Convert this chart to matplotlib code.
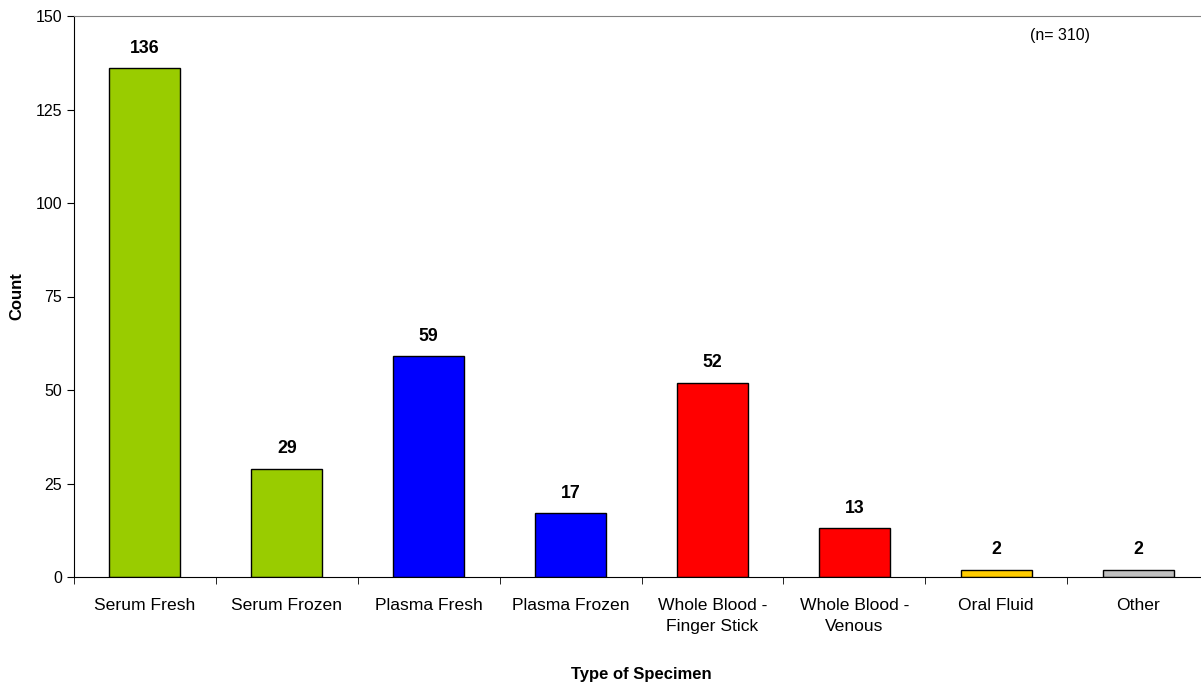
import matplotlib.pyplot as plt
import numpy as np

plt.rcParams['font.family'] = ['Liberation Sans', 'DejaVu Sans']

categories = ['Serum Fresh', 'Serum Frozen', 'Plasma Fresh', 'Plasma Frozen',
              'Whole Blood -\nFinger Stick', 'Whole Blood -\nVenous', 'Oral Fluid', 'Other']
counts = [136, 29, 59, 17, 52, 13, 2, 2]
colors = ['#99CC00', '#99CC00', '#0000FF', '#0000FF', '#FF0000', '#FF0000', '#FFCC00', '#C0C0C0']

fig = plt.figure(figsize=(12.01, 6.88), dpi=100)
ax = fig.add_axes([74 / 1201, 111 / 688, 1135 / 1201, 561 / 688])

x = np.arange(len(categories))
bars = ax.bar(x, counts, width=0.5, color=colors, edgecolor='black', linewidth=1)
for xi, v in zip(x, counts):
    ax.text(xi, v + 3, str(v), ha='center', va='bottom', fontsize=12.8, fontweight='bold')

ax.set_xlim(-0.5, len(categories) - 0.5)
ax.set_ylim(0, 150)
ax.set_yticks([0, 25, 50, 75, 100, 125, 150])
ax.set_xticks(x)
ax.set_xticklabels(categories, fontsize=12.6, linespacing=1.55)
ax.set_xticks(np.arange(-0.5, len(categories)), minor=True)
ax.tick_params(axis='x', which='major', length=0, pad=15)
ax.tick_params(axis='x', which='minor', length=5, direction='out')
ax.tick_params(axis='y', length=5, direction='out', labelsize=11.5)

ax.spines['right'].set_visible(False)
ax.spines['top'].set_color('#808080')

ax.set_ylabel('Count', fontsize=12, fontweight='bold')
ax.yaxis.set_label_coords(-0.044, 0.5)
ax.set_xlabel('Type of Specimen', fontsize=12, fontweight='bold')
ax.xaxis.set_label_coords(0.5, -0.160)
ax.text(0.842, 0.978, '(n= 310)', transform=ax.transAxes, fontsize=11.5, va='top')

plt.savefig('out.png', dpi=100)
